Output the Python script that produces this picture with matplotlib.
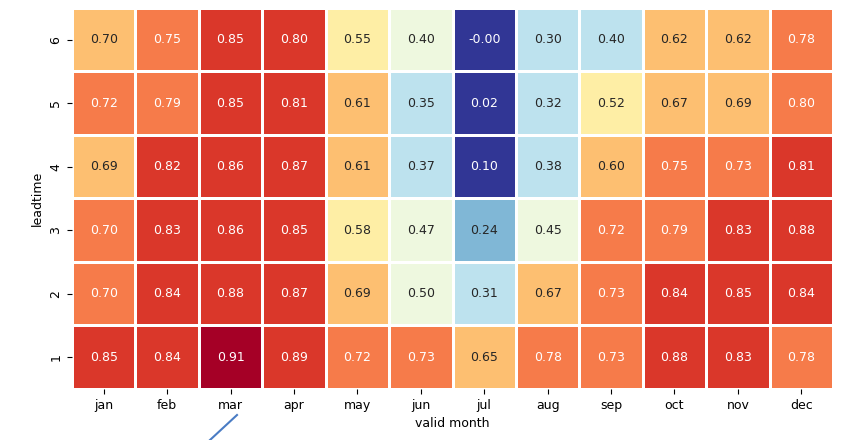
import matplotlib
matplotlib.use('Agg')
import matplotlib.pyplot as plt
import numpy as np
import pandas as pd
import seaborn as sns
from matplotlib.lines import Line2D

months = ['jan', 'feb', 'mar', 'apr', 'may', 'jun',
          'jul', 'aug', 'sep', 'oct', 'nov', 'dec']
leadtimes = [6, 5, 4, 3, 2, 1]

# correlation per leadtime (rows) and valid month (columns)
lead6 = [0.698, 0.75, 0.85, 0.802, 0.55, 0.402, -0.002, 0.302, 0.398, 0.62, 0.62, 0.78]
lead5 = [0.72, 0.79, 0.85, 0.81, 0.61, 0.35, 0.02, 0.32, 0.52, 0.67, 0.69, 0.798]
lead4 = [0.69, 0.82, 0.86, 0.87, 0.61, 0.37, 0.098, 0.38, 0.602, 0.75, 0.73, 0.81]
lead3 = [0.702, 0.83, 0.86, 0.85, 0.58, 0.47, 0.24, 0.45, 0.72, 0.79, 0.83, 0.88]
lead2 = [0.702, 0.84, 0.88, 0.87, 0.69, 0.498, 0.31, 0.67, 0.73, 0.84, 0.85, 0.84]
lead1 = [0.85, 0.84, 0.91, 0.89, 0.72, 0.73, 0.65, 0.78, 0.73, 0.88, 0.83, 0.78]

df = pd.DataFrame([lead6, lead5, lead4, lead3, lead2, lead1],
                  index=leadtimes, columns=months)

fig = plt.figure(figsize=(8.46, 4.4), dpi=100)
ax = fig.add_axes([72 / 846, 1 - 389 / 440, 761 / 846, 381 / 440])

cmap = plt.get_cmap('RdYlBu_r', 10)
sns.heatmap(df, ax=ax, cmap=cmap, vmin=0, vmax=1, annot=True, fmt='.2f',
            annot_kws={'fontsize': 9}, linewidths=1, linecolor='white',
            cbar=False)

ax.set_xlabel('valid month', fontsize=9)
ax.set_ylabel('leadtime', fontsize=9)
ax.tick_params(labelsize=9)

# pointer line below the x axis
fig.add_artist(Line2D([237 / 846, 210 / 846], [1 - 415 / 440, 0],
                      transform=fig.transFigure, color='#4a7cc4', linewidth=1.5))

fig.savefig('out.png', dpi=100)
plt.close(fig)
